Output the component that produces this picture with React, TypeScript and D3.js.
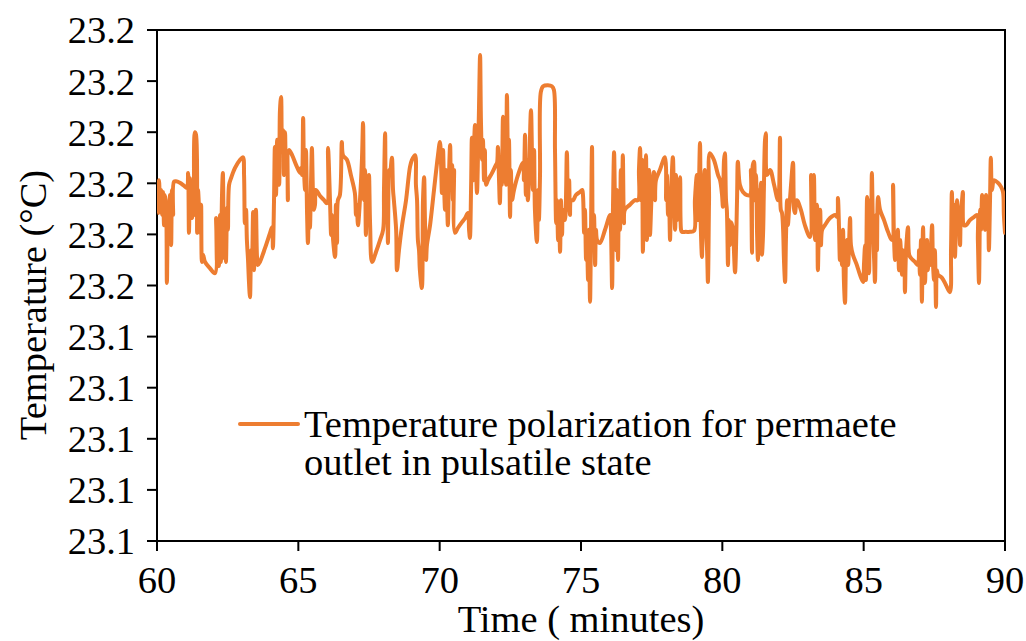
import React from "react";
import * as d3 from "d3";

const times: number[] = [
  60.00,60.04,60.07,60.11,60.14,60.18,60.21,60.25,60.28,60.32,60.35,60.39,60.42,60.46,60.50,60.53,60.57,60.60,60.67,60.81,60.96,61.06,
  61.10,61.13,61.17,61.20,61.24,61.27,61.31,61.34,61.38,61.42,61.45,61.49,61.52,61.56,61.59,61.63,61.70,61.87,62.05,
  62.09,62.12,62.16,62.19,62.23,62.26,62.30,62.33,62.37,62.41,62.44,62.48,62.51,62.55,62.62,62.76,62.94,63.04,
  63.08,63.11,63.15,63.18,63.22,63.25,63.29,63.33,63.36,63.40,63.43,63.47,63.50,63.54,63.57,63.64,63.82,64.00,
  64.07,64.10,64.14,64.17,64.21,64.25,64.28,64.32,64.35,64.39,64.42,64.46,64.49,64.53,64.56,64.60,64.63,64.67,64.78,64.92,65.06,
  65.09,65.13,65.17,65.20,65.24,65.27,65.31,65.34,65.38,65.41,65.45,65.48,65.52,65.55,65.59,65.62,
  65.77,65.91,66.01,66.05,66.12,66.16,66.19,66.23,66.30,66.33,66.37,66.40,66.47,66.54,66.58,66.72,66.86,67.00,
  67.04,67.07,67.11,67.18,67.25,67.29,67.32,67.36,67.39,67.43,67.46,67.50,67.54,67.61,67.75,67.89,68.00,
  68.03,68.07,68.10,68.14,68.17,68.21,68.24,68.31,68.35,68.38,68.46,68.49,68.56,68.67,68.81,68.95,69.02,
  69.13,69.16,69.20,69.23,69.27,69.30,69.37,69.41,69.45,69.48,69.52,69.55,69.66,69.80,69.94,70.01,
  70.05,70.08,70.12,70.15,70.19,70.22,70.26,70.29,70.33,70.37,70.40,70.44,70.47,70.51,70.54,70.65,70.79,70.90,71.00,
  71.04,71.07,71.11,71.14,71.18,71.21,71.25,71.28,71.32,71.36,71.39,71.43,71.46,71.50,71.53,71.57,71.60,71.64,71.71,71.85,71.99,
  72.03,72.06,72.10,72.13,72.17,72.20,72.24,72.28,72.31,72.35,72.38,72.42,72.45,72.49,72.52,72.56,72.63,72.77,72.95,
  72.98,73.02,73.05,73.09,73.12,73.16,73.23,73.27,73.30,73.34,73.37,73.44,73.48,73.51,73.55,73.58,73.66,73.83,73.97,
  74.04,74.08,74.12,74.15,74.19,74.22,74.26,74.29,74.33,74.36,74.43,74.50,74.54,74.58,74.61,74.65,74.72,74.82,74.96,
  75.04,75.07,75.11,75.14,75.18,75.21,75.25,75.28,75.32,75.35,75.39,75.42,75.46,75.50,75.53,75.57,75.67,75.85,76.03,
  76.06,76.10,76.13,76.17,76.20,76.24,76.27,76.31,76.34,76.38,76.41,76.45,76.48,76.52,76.55,76.73,76.91,77.02,
  77.05,77.09,77.12,77.16,77.19,77.23,77.26,77.30,77.33,77.37,77.41,77.44,77.51,77.58,77.62,77.65,77.79,77.97,
  78.01,78.04,78.08,78.11,78.15,78.18,78.25,78.29,78.33,78.36,78.40,78.43,78.50,78.54,78.57,78.71,78.86,79.00,
  79.03,79.10,79.14,79.17,79.21,79.24,79.28,79.31,79.35,79.38,79.42,79.46,79.49,79.53,79.56,79.70,79.85,79.92,
  79.99,80.02,80.06,80.09,80.13,80.16,80.20,80.23,80.27,80.31,80.38,80.41,80.45,80.52,80.55,80.62,80.73,80.87,80.98,
  81.01,81.05,81.08,81.12,81.15,81.19,81.23,81.26,81.30,81.33,81.37,81.40,81.44,81.47,81.51,81.54,81.58,81.69,81.83,81.97,
  82.04,82.07,82.11,82.15,82.18,82.22,82.25,82.29,82.32,82.36,82.39,82.43,82.50,82.54,82.57,82.64,82.78,82.92,83.10,
  83.14,83.17,83.21,83.24,83.28,83.31,83.35,83.38,83.42,83.46,83.49,83.53,83.63,83.81,83.99,
  84.06,84.09,84.13,84.16,84.20,84.23,84.27,84.30,84.34,84.38,84.41,84.45,84.52,84.55,84.62,84.76,84.87,
  84.98,85.01,85.05,85.08,85.12,85.15,85.19,85.22,85.26,85.29,85.33,85.37,85.40,85.44,85.47,85.51,85.58,85.72,85.86,86.00,
  86.04,86.07,86.11,86.14,86.18,86.21,86.25,86.29,86.36,86.39,86.43,86.46,86.50,86.57,86.61,86.67,86.82,86.92,
  86.96,86.99,87.03,87.06,87.10,87.13,87.17,87.20,87.24,87.27,87.31,87.35,87.42,87.45,87.49,87.52,87.56,87.59,87.63,87.77,87.91,88.05,
  88.09,88.12,88.16,88.20,88.23,88.27,88.30,88.34,88.37,88.41,88.44,88.48,88.51,88.55,88.62,88.76,88.90,89.01,
  89.04,89.08,89.12,89.15,89.19,89.22,89.26,89.29,89.33,89.36,89.40,89.43,89.47,89.50,89.54,89.61,89.75,89.86,89.93,89.96,90.00,
];

const temps: number[] = [
  23.1697,23.1642,23.1706,23.1667,23.1687,23.1638,23.1683,23.1618,23.1677,23.1658,23.1505,23.1658,23.1609,23.1677,23.1579,23.1687,23.1638,23.1703,23.1704,23.1701,23.1695,23.1691,
  23.1720,23.1603,23.1710,23.1667,23.1632,23.1687,23.1638,23.1800,23.1795,23.1603,23.1687,23.1648,23.1603,23.1658,23.1546,23.1560,23.1546,23.1534,23.1524,
  23.1632,23.1546,23.1628,23.1538,23.1638,23.1546,23.1677,23.1720,23.1554,23.1648,23.1546,23.1652,23.1609,23.1697,23.1710,23.1730,23.1746,23.1751,
  23.1716,23.1622,23.1648,23.1589,23.1550,23.1511,23.1477,23.1569,23.1544,23.1644,23.1530,23.1609,23.1648,23.1554,23.1540,23.1546,23.1573,23.1603,
  23.1614,23.1573,23.1667,23.1771,23.1677,23.1785,23.1726,23.1697,23.1843,23.1869,23.1765,23.1804,23.1716,23.1800,23.1746,23.1761,23.1667,23.1765,23.1755,23.1736,23.1720,
  23.1730,23.1716,23.1828,23.1726,23.1687,23.1765,23.1638,23.1583,23.1667,23.1613,23.1706,23.1769,23.1677,23.1648,23.1658,23.1687,
  23.1675,23.1667,23.1661,23.1769,23.1667,23.1599,23.1638,23.1589,23.1556,23.1658,23.1583,23.1667,23.1677,23.1781,23.1755,23.1746,23.1716,23.1681,
  23.1638,23.1658,23.1618,23.1667,23.1746,23.1818,23.1667,23.1726,23.1599,23.1687,23.1648,23.1716,23.1618,23.1546,23.1566,23.1589,23.1609,
  23.1687,23.1798,23.1658,23.1687,23.1583,23.1726,23.1716,23.1750,23.1687,23.1667,23.1609,23.1530,23.1569,23.1618,23.1667,23.1732,23.1746,
  23.1755,23.1697,23.1667,23.1589,23.1569,23.1530,23.1495,23.1667,23.1712,23.1628,23.1550,23.1579,23.1618,23.1687,23.1755,23.1781,
  23.1736,23.1681,23.1765,23.1706,23.1648,23.1726,23.1667,23.1618,23.1716,23.1775,23.1687,23.1736,23.1667,23.1726,23.1603,23.1613,23.1624,23.1632,23.1642,
  23.1609,23.1593,23.1687,23.1789,23.1706,23.1765,23.1814,23.1746,23.1681,23.1765,23.1843,23.1951,23.1824,23.1746,23.1785,23.1706,23.1765,23.1697,23.1706,23.1720,23.1736,
  23.1740,23.1771,23.1706,23.1661,23.1746,23.1697,23.1830,23.1746,23.1804,23.1697,23.1873,23.1746,23.1785,23.1634,23.1726,23.1667,23.1687,23.1716,23.1740,
  23.1706,23.1795,23.1677,23.1746,23.1667,23.1716,23.1843,23.1746,23.1687,23.1765,23.1648,23.1585,23.1687,23.1628,23.1716,23.1879,23.1890,23.1892,23.1890,
  23.1883,23.1765,23.1622,23.1667,23.1589,23.1638,23.1566,23.1667,23.1599,23.1648,23.1628,23.1761,23.1648,23.1706,23.1638,23.1667,23.1667,23.1677,23.1683,
  23.1687,23.1677,23.1603,23.1648,23.1550,23.1589,23.1511,23.1609,23.1468,23.1589,23.1771,23.1569,23.1638,23.1540,23.1609,23.1589,23.1583,23.1609,23.1638,
  23.1609,23.1495,23.1648,23.1761,23.1667,23.1569,23.1687,23.1550,23.1658,23.1609,23.1726,23.1667,23.1755,23.1622,23.1648,23.1658,23.1667,23.1667,
  23.1726,23.1769,23.1667,23.1746,23.1566,23.1706,23.1638,23.1755,23.1589,23.1658,23.1726,23.1599,23.1687,23.1722,23.1667,23.1706,23.1726,23.1751,
  23.1667,23.1716,23.1638,23.1687,23.1589,23.1667,23.1751,23.1667,23.1609,23.1716,23.1628,23.1677,23.1712,23.1609,23.1605,23.1605,23.1605,23.1607,
  23.1667,23.1716,23.1628,23.1687,23.1779,23.1609,23.1556,23.1667,23.1706,23.1726,23.1609,23.1569,23.1507,23.1667,23.1759,23.1746,23.1716,23.1706,
  23.1677,23.1654,23.1746,23.1759,23.1667,23.1648,23.1540,23.1628,23.1579,23.1624,23.1609,23.1569,23.1526,23.1667,23.1742,23.1697,23.1683,23.1677,23.1677,
  23.1726,23.1564,23.1736,23.1742,23.1667,23.1716,23.1599,23.1550,23.1687,23.1667,23.1701,23.1560,23.1599,23.1687,23.1785,23.1798,23.1716,23.1726,23.1697,23.1667,
  23.1789,23.1648,23.1642,23.1609,23.1550,23.1507,23.1589,23.1667,23.1618,23.1648,23.1667,23.1697,23.1740,23.1648,23.1642,23.1667,23.1648,23.1618,23.1595,
  23.1716,23.1677,23.1667,23.1716,23.1589,23.1628,23.1658,23.1530,23.1618,23.1648,23.1579,23.1609,23.1618,23.1632,23.1638,
  23.1634,23.1671,23.1609,23.1550,23.1589,23.1540,23.1609,23.1511,23.1466,23.1569,23.1589,23.1540,23.1632,23.1579,23.1560,23.1540,23.1521,
  23.1507,23.1540,23.1579,23.1511,23.1673,23.1569,23.1524,23.1667,23.1589,23.1720,23.1609,23.1550,23.1507,23.1638,23.1569,23.1673,23.1648,23.1628,23.1605,23.1589,
  23.1697,23.1599,23.1550,23.1579,23.1569,23.1609,23.1530,23.1589,23.1521,23.1569,23.1560,23.1487,23.1569,23.1614,23.1560,23.1554,23.1546,23.1540,
  23.1569,23.1521,23.1589,23.1468,23.1614,23.1550,23.1505,23.1560,23.1589,23.1530,23.1569,23.1540,23.1618,23.1546,23.1511,23.1569,23.1458,23.1530,23.1521,23.1515,23.1501,23.1487,
  23.1569,23.1683,23.1599,23.1658,23.1556,23.1628,23.1667,23.1609,23.1638,23.1579,23.1648,23.1667,23.1683,23.1618,23.1618,23.1628,23.1634,23.1638,
  23.1589,23.1505,23.1648,23.1609,23.1677,23.1648,23.1667,23.1609,23.1677,23.1618,23.1658,23.1569,23.1667,23.1750,23.1687,23.1706,23.1701,23.1693,23.1683,23.1638,23.1603,
];

const xTicks: number[] = [60, 65, 70, 75, 80, 85, 90];
const yTicks: number[] = [23.10, 23.11, 23.12, 23.13, 23.14, 23.15, 23.16, 23.17, 23.18, 23.19, 23.20];
const yTickLabels: string[] = ["23.1", "23.1", "23.1", "23.1", "23.1", "23.2", "23.2", "23.2", "23.2", "23.2", "23.2"];
const legendLines: string[] = ["Temperature polarization for permaete", "outlet in pulsatile state"];
const xTitle = "Time ( minutes)";
const yTitle = "Temperature (°C)";

const W = 1026;
const H = 641;
const FONT = '"Liberation Serif", "Times New Roman", "DejaVu Serif", serif';
const ORANGE = "#ED7D31";

export default function App() {
  const left = 157, right = 1005, top = 30, bottom = 541;
  const x = d3.scaleLinear().domain([60, 90]).range([left, right]);
  const y = d3.scaleLinear().domain([23.10, 23.20]).range([bottom, top]);
  const n = Math.min(times.length, temps.length);
  const data: [number, number][] = [];
  for (let i = 0; i < n; i++) data.push([times[i], temps[i]]);
  const line = d3
    .line<[number, number]>()
    .x((d) => x(d[0]))
    .y((d) => y(d[1]))
    .curve(d3.curveCatmullRom.alpha(0.5));
  const path = line(data) || "";
  const fs = 38.5;
  const ts: React.CSSProperties = { fontFamily: FONT, fontSize: fs };

  return (
    <svg
      width={W}
      height={H}
      style={{ position: "absolute", left: 0, top: 0, background: "#fff" }}
    >
      <rect x={0} y={0} width={W} height={H} fill="#fff" />
      <defs>
        <clipPath id="plotclip">
          <rect x={left} y={top - 2} width={right - left} height={bottom - top + 4} />
        </clipPath>
      </defs>
      <rect x={left} y={top} width={right - left} height={bottom - top} fill="none" stroke="#000" strokeWidth={2} />
      {yTicks.map((v, i) => (
        <g key={"y" + i}>
          <line x1={left - 10} x2={left} y1={y(v)} y2={y(v)} stroke="#000" strokeWidth={2} />
          <text x={left - 22} y={y(v)} dy="0.35em" textAnchor="end" style={ts} fill="#000">
            {yTickLabels[i]}
          </text>
        </g>
      ))}
      {xTicks.map((v, i) => (
        <g key={"x" + i}>
          <line x1={x(v)} x2={x(v)} y1={bottom} y2={bottom + 10} stroke="#000" strokeWidth={2} />
          <text x={x(v)} y={593} textAnchor="middle" style={ts} fill="#000">
            {v}
          </text>
        </g>
      ))}
      <path
        d={path}
        fill="none"
        stroke={ORANGE}
        strokeWidth={4}
        strokeLinejoin="round"
        strokeLinecap="round"
        clipPath="url(#plotclip)"
      />
      <line x1={240} x2={298} y1={424} y2={424} stroke={ORANGE} strokeWidth={4} strokeLinecap="round" />
      {legendLines.map((t, i) => (
        <text key={"l" + i} x={304} y={437 + i * 38} style={ts} fill="#000">
          {t}
        </text>
      ))}
      <text x={(left + right) / 2} y={632} textAnchor="middle" style={ts} fill="#000">
        {xTitle}
      </text>
      <text transform="translate(46,305) rotate(-90)" textAnchor="middle" style={ts} fill="#000">
        {yTitle}
      </text>
    </svg>
  );
}
